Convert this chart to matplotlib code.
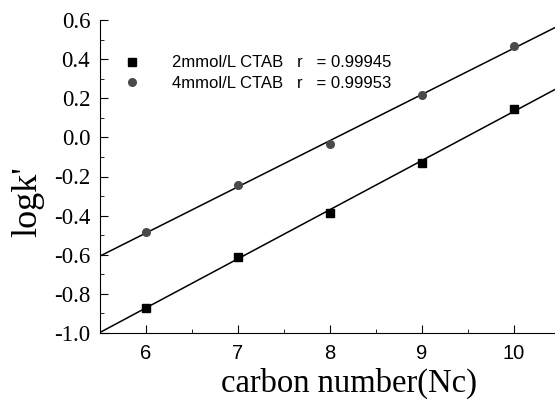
import numpy as np
import matplotlib.pyplot as plt
from matplotlib.ticker import MultipleLocator

carbon = [6, 7, 8, 9, 10]
logk_2mmol = [-0.87, -0.61, -0.385, -0.13, 0.145]
logk_4mmol = [-0.485, -0.245, -0.035, 0.215, 0.465]
labels = ['2mmol/L CTAB   r   = 0.99945', '4mmol/L CTAB   r   = 0.99953']

fig = plt.figure(figsize=(5.55, 4.0), dpi=100)
ax = fig.add_axes([0.18, 0.1675, 0.82, 0.7825])

xlim = (5.5, 10.45)
xs = np.array(xlim)
for y, mk, col, lab in [(logk_2mmol, 's', 'black', labels[0]),
                        (logk_4mmol, 'o', '#4a4a4a', labels[1])]:
    p = np.polyfit(carbon, y, 1)
    ax.plot(xs, np.polyval(p, xs), color='black', lw=1.1)
    ax.plot(carbon, y, mk, color=col, markersize=5.5, label=lab, linestyle='none')

ax.set_xlim(*xlim)
ax.set_ylim(-1.0, 0.6)
ax.spines['top'].set_visible(False)
ax.spines['right'].set_visible(False)
ax.xaxis.set_major_locator(MultipleLocator(1))
ax.xaxis.set_minor_locator(MultipleLocator(0.5))
ax.yaxis.set_major_locator(MultipleLocator(0.2))
ax.yaxis.set_minor_locator(MultipleLocator(0.1))
ax.tick_params(which='both', direction='in')
ax.tick_params(which='major', length=6)
ax.tick_params(which='minor', length=3)
ax.tick_params(axis='x', labelsize=14.5, pad=8)
ax.tick_params(axis='y', labelsize=16.5, pad=7)
for t in ax.get_yticklabels():
    t.set_family('Liberation Serif')
for t in ax.get_xticklabels():
    t.set_family('Liberation Sans')
ax.yaxis.set_major_formatter(plt.FuncFormatter(lambda v, _: f'{v:.1f}'))

ax.set_xlabel('carbon number(Nc)', family='Liberation Serif', fontsize=23.5)
ax.xaxis.set_label_coords(0.547, -0.112)
ax.set_ylabel("logk'", family='Liberation Serif', fontsize=26)
ax.yaxis.set_label_coords(-0.123, 0.42)

ax.legend(loc='upper left', bbox_to_anchor=(0.02, 0.935), frameon=False,
          prop={'family': 'Liberation Sans', 'size': 12},
          handletextpad=1.9, labelspacing=0.35, handlelength=1.0)

fig.savefig('out.png', dpi=100)
